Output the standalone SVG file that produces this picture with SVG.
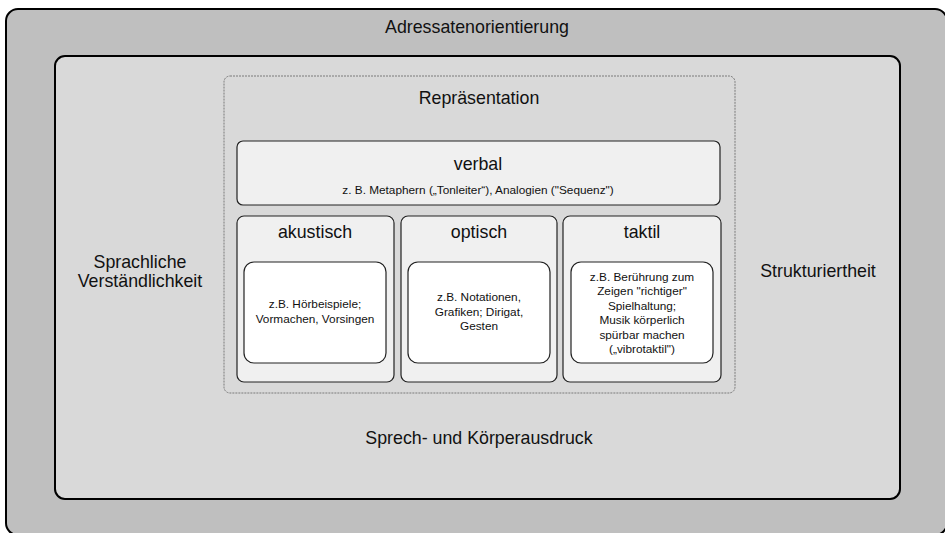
<svg xmlns="http://www.w3.org/2000/svg" width="945" height="533" viewBox="0 0 945 533">
<style>
text{font-family:"Liberation Sans",Arial,sans-serif;fill:#111;text-anchor:middle}
.big{font-size:17.8px}
.small{font-size:11.8px}
.frame{stroke:#000;stroke-width:2}
.box{stroke:#222;stroke-width:1.2}
</style>
<rect width="945" height="533" fill="#ffffff"/>
<g id="adressatenorientierung">
<rect class="frame" x="6" y="9" width="941" height="526" rx="12" fill="#bfbfbf"/>
<text class="big" x="477" y="33">Adressatenorientierung</text>
</g>
<g id="inner-frame">
<rect class="frame" x="55" y="56" width="845" height="443" rx="10" fill="#d9d9d9"/>
<text class="big" x="140" y="268">Sprachliche</text>
<text class="big" x="140" y="287">Verständlichkeit</text>
<text class="big" x="818" y="277">Strukturiertheit</text>
<text class="big" x="479" y="444">Sprech- und Körperausdruck</text>
</g>
<g id="repraesentation">
<rect x="224" y="76" width="511" height="317" rx="6" fill="#d9d9d9" stroke="#7a7a7a" stroke-width="1" stroke-dasharray="2,1"/>
<text class="big" x="479" y="104">Repräsentation</text>
</g>
<g id="verbal">
<rect class="box" x="237" y="141" width="483" height="64" rx="6" fill="#f0f0f0"/>
<text class="big" x="478" y="170">verbal</text>
<text class="small" x="478" y="194">z. B. Metaphern („Tonleiter“), Analogien ("Sequenz")</text>
</g>
<g id="akustisch">
<rect class="box" x="237" y="216" width="157" height="166" rx="7" fill="#f0f0f0"/>
<text class="big" x="315" y="238">akustisch</text>
<rect class="box" x="244" y="262" width="142" height="101" rx="10" fill="#ffffff"/>
<text class="small" x="315" y="308">z.B. Hörbeispiele;</text>
<text class="small" x="315" y="323">Vormachen, Vorsingen</text>
</g>
<g id="optisch">
<rect class="box" x="401" y="216" width="156" height="166" rx="7" fill="#f0f0f0"/>
<text class="big" x="479" y="238">optisch</text>
<rect class="box" x="408" y="262" width="142" height="101" rx="10" fill="#ffffff"/>
<text class="small" x="479" y="301">z.B. Notationen,</text>
<text class="small" x="479" y="315.5">Grafiken; Dirigat,</text>
<text class="small" x="479" y="330">Gesten</text>
</g>
<g id="taktil">
<rect class="box" x="563" y="216" width="158" height="166" rx="7" fill="#f0f0f0"/>
<text class="big" x="642" y="238">taktil</text>
<rect class="box" x="571" y="262" width="142" height="101" rx="10" fill="#ffffff"/>
<text class="small" x="642" y="281">z.B. Berührung zum</text>
<text class="small" x="642" y="295.4">Zeigen "richtiger"</text>
<text class="small" x="642" y="309.8">Spielhaltung;</text>
<text class="small" x="642" y="324.2">Musik körperlich</text>
<text class="small" x="642" y="338.6">spürbar machen</text>
<text class="small" x="642" y="353">(„vibrotaktil")</text>
</g>
<g id="connectors"></g>
</svg>
